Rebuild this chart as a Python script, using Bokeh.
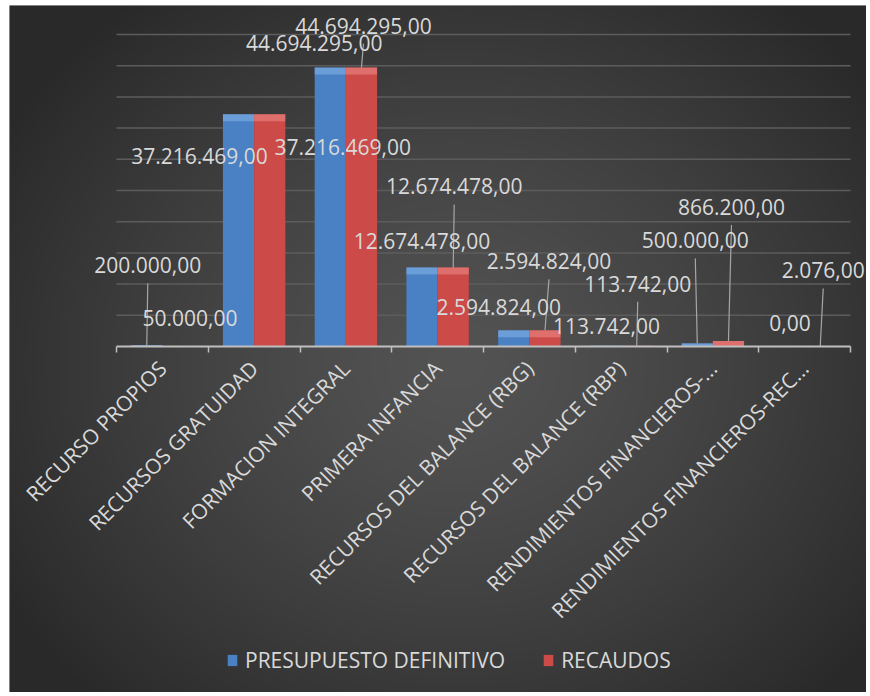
from bokeh.plotting import figure
from bokeh.models import (Range1d, FixedTicker, ColumnDataSource, Legend, LegendItem, Spacer)
from bokeh.layouts import row, column
from bokeh.core.properties import value
from bokeh.embed import file_html
from bokeh.resources import INLINE
import numpy as np
import math

# ---------------- data ----------------
categories = ["RECURSO PROPIOS", "RECURSOS GRATUIDAD", "FORMACION INTEGRAL",
              "PRIMERA INFANCIA", "RECURSOS DEL BALANCE (RBG)",
              "RECURSOS DEL BALANCE (RBP)", "RENDIMIENTOS FINANCIEROS-...",
              "RENDIMIENTOS FINANCIEROS-REC..."]
presupuesto = [200000.00, 37216469.00, 44694295.00, 12674478.00,
               2594824.00, 113742.00, 500000.00, 0.00]
recaudos = [50000.00, 37216469.00, 44694295.00, 12674478.00,
            2594824.00, 113742.00, 866200.00, 2076.00]
series_names = ["PRESUPUESTO DEFINITIVO", "RECAUDOS"]
grid_values = [5e6, 10e6, 15e6, 20e6, 25e6, 30e6, 35e6, 40e6, 45e6, 50e6]

# ---------------- layout / style ----------------
FIG_W, FIG_H = 857, 687
PLOT_L, PLOT_R = 107, 841     # px (from figure left) where the category axis lies
AXIS_Y = 341                  # px (from figure top) of the value-zero baseline
Y_PER_PX = 160256.0
NCAT = len(categories)
X_PER_PX = NCAT / (PLOT_R - PLOT_L)
X0 = -PLOT_L * X_PER_PX
X1 = NCAT + (FIG_W - PLOT_R) * X_PER_PX
Y0 = -(FIG_H - AXIS_Y) * Y_PER_PX
Y1 = AXIS_Y * Y_PER_PX

BG = "#414141"
TXT = "#d9d9d9"
BLUE, BLUE_TOP = "#4a80c4", "#86b4ea"
RED, RED_TOP = "#cc4a48", "#ec8e8c"
BAR_W = 0.34
FONT = "Open Sans"

blue_dx = [1, -39, -16, 0, -15, 1, -2, 1]
blue_dy = [-80, 42, -25, -26, -23, -20, -103, -24]
blue_lead = [True, False, False, False, False, False, True, False]
red_dx = [12, 73, 2, 1, 4, 1, 3, 3]
red_dy = [-28, 33, -42, -81, -69, -62, -134, -76]
red_lead = [False, False, True, True, True, True, True, True]


def fmt(v):
    s = f"{v:,.2f}"
    return s.replace(",", "X").replace(".", ",").replace("X", ".")


p = figure(frame_width=FIG_W, frame_height=FIG_H, output_backend="svg",
           toolbar_location=None, y_axis_location=None,
           x_range=Range1d(X0, X1), y_range=Range1d(Y0, Y1),
           min_border_left=0, min_border_right=0,
           min_border_top=0, min_border_bottom=0)
p.background_fill_color = BG
p.border_fill_color = BG
p.outline_line_color = None
p.grid.visible = False

# soft radial background shading (decoration only)
GW, GH = FIG_W // 3, FIG_H // 3
gy, gx = np.mgrid[0:GH, 0:GW]
cx, cy = GW * 0.52, GH * 0.52
d = np.sqrt(((gx - cx) / (GW * 0.62)) ** 2 + ((gy - cy) / (GH * 0.68)) ** 2)
d = np.clip(d, 0, 1)
shade = (0x53 - (0x53 - 0x29) * d ** 1.3).astype(np.uint32)
shade = shade[::-1]  # image rows run bottom-up
img = (255 << 24) | (shade << 16) | (shade << 8) | shade
p.image_rgba(image=[img.view(np.uint32)], x=X0, y=Y0, dw=X1 - X0, dh=Y1 - Y0,
             level="image")

# horizontal gridlines over the category span
p.segment(x0=[0] * len(grid_values), x1=[NCAT] * len(grid_values),
          y0=grid_values, y1=grid_values, line_color="#5c5c5c", line_width=1.5)

centres = [i + 0.5 for i in range(NCAT)]
bounds = [float(i) for i in range(NCAT + 1)]
ax = p.xaxis[0]
ax.fixed_location = 0
ax.bounds = (0, NCAT)
ax.ticker = FixedTicker(ticks=centres, minor_ticks=bounds)
ax.major_label_overrides = {c: name for c, name in zip(centres, categories)}
ax.major_tick_line_color = None
ax.minor_tick_line_color = "#bfbfbf"
ax.minor_tick_line_width = 1.5
ax.minor_tick_out = 6
ax.minor_tick_in = 0
ax.axis_line_color = "#bfbfbf"
ax.axis_line_width = 2
ax.major_label_orientation = math.pi / 4
ax.major_label_text_font = FONT
ax.major_label_text_font_size = "21px"
ax.major_label_text_color = TXT
ax.major_label_standoff = 12

series = [(presupuesto, -BAR_W / 2, BLUE, BLUE_TOP, blue_dx, blue_dy, blue_lead),
          (recaudos, BAR_W / 2, RED, RED_TOP, red_dx, red_dy, red_lead)]

renderers = []
for vals, off, col, topcol, dxs, dys, leads in series:
    xs = [c + off for c in centres]
    src = ColumnDataSource(dict(x=xs, top=vals))
    r = p.vbar(x="x", top="top", width=BAR_W, bottom=0, source=src,
               fill_color=col, line_color=None)
    renderers.append(r)
    bev_bottom = [max(v - 7 * Y_PER_PX, 0) for v in vals]
    p.vbar(x=xs, top=vals, bottom=bev_bottom, width=BAR_W,
           fill_color=topcol, fill_alpha=0.55, line_color=None)

for vals, off, col, topcol, dxs, dys, leads in series:
    xs = [c + off for c in centres]
    lx0, ly0, lx1, ly1 = [], [], [], []
    for x, v, dx, dy, ld in zip(xs, vals, dxs, dys, leads):
        if ld:
            lx0.append(x)
            ly0.append(v)
            lx1.append(x + dx * X_PER_PX)
            ly1.append(v - (dy + 18) * Y_PER_PX)
    p.segment(x0=lx0, y0=ly0, x1=lx1, y1=ly1, line_color="#a6a6a6",
              line_width=1.2)

for vals, off, col, topcol, dxs, dys, leads in series:
    xs = [c + off for c in centres]
    p.text(x=xs, y=vals, text=[fmt(v) for v in vals], x_offset=dxs,
           y_offset=dys, text_align="center", text_baseline="middle",
           text_font=value(FONT), text_font_size="21px", text_color=TXT)

legend = Legend(items=[LegendItem(label=series_names[0], renderers=[renderers[0]]),
                       LegendItem(label=series_names[1], renderers=[renderers[1]])],
                orientation="horizontal", location=(217, 18),
                background_fill_alpha=0, border_line_color=None,
                label_text_font=FONT, label_text_font_size="21px",
                label_text_color=TXT, glyph_width=12, glyph_height=14,
                label_standoff=7, spacing=37, margin=0, padding=4)
p.add_layout(legend)

layout = column(Spacer(height=5), row(Spacer(width=9), p))
open("out.html", "w").write(file_html(layout, INLINE))
